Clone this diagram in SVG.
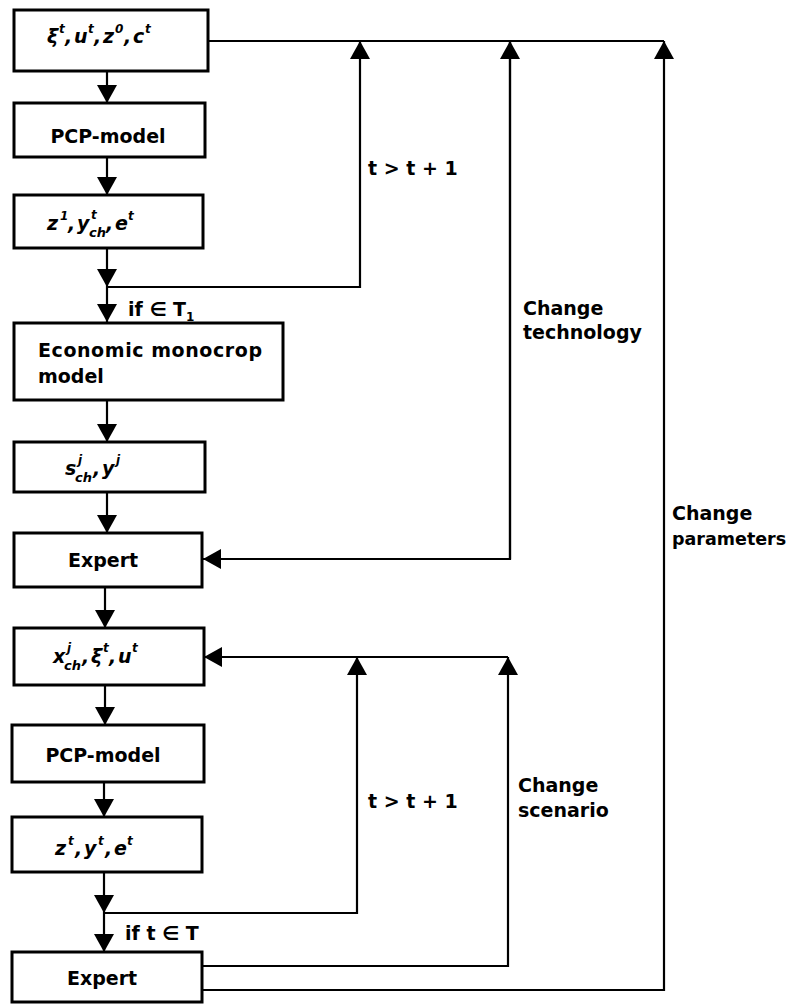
<svg xmlns="http://www.w3.org/2000/svg" width="791" height="1004" viewBox="0 0 791 1004">
<style>
.box{fill:#fff;stroke:#000;stroke-width:3}
.t{font-family:"DejaVu Sans","Liberation Sans",sans-serif;font-weight:bold;font-size:19px;fill:#000}
.m{font-family:"DejaVu Sans","Liberation Sans",sans-serif;font-weight:bold;font-style:italic;font-size:19px;fill:#000}
.s{font-size:12px}
.sb{font-size:13px}
.c{fill:none;stroke:#000;stroke-width:2.2}
</style>
<defs>
<marker id="ah" markerUnits="userSpaceOnUse" markerWidth="20" markerHeight="20" viewBox="0 0 18 20" refX="18" refY="10" orient="auto">
<path d="M0,0 L18,10 L0,20 z" fill="#000"/>
</marker>
</defs>
<rect width="791" height="1004" fill="#fff"/>
<g id="connectors">
<line class="c" x1="107" y1="71" x2="107" y2="103" marker-end="url(#ah)"/>
<line class="c" x1="107" y1="157" x2="107" y2="195" marker-end="url(#ah)"/>
<line class="c" x1="107" y1="248" x2="107" y2="287" marker-end="url(#ah)"/>
<line class="c" x1="107" y1="287" x2="107" y2="322" marker-end="url(#ah)"/>
<polyline class="c" points="107,287 360,287 360,41" marker-end="url(#ah)"/>
<line class="c" x1="208" y1="41" x2="664" y2="41"/>
<line class="c" x1="107" y1="400" x2="107" y2="442" marker-end="url(#ah)"/>
<line class="c" x1="107" y1="492" x2="107" y2="533" marker-end="url(#ah)"/>
<polyline class="c" points="510,41 510,559 203,559" marker-end="url(#ah)"/>
<line class="c" x1="510" y1="559" x2="510" y2="41" marker-end="url(#ah)"/>
<line class="c" x1="105" y1="587" x2="105" y2="628" marker-end="url(#ah)"/>
<polyline class="c" points="508,657 204,657" marker-end="url(#ah)"/>
<line class="c" x1="105" y1="685" x2="105" y2="725" marker-end="url(#ah)"/>
<line class="c" x1="104" y1="782" x2="104" y2="817" marker-end="url(#ah)"/>
<line class="c" x1="104" y1="872" x2="104" y2="913" marker-end="url(#ah)"/>
<line class="c" x1="104" y1="913" x2="104" y2="952" marker-end="url(#ah)"/>
<polyline class="c" points="104,913 357,913 357,657" marker-end="url(#ah)"/>
<polyline class="c" points="202,966 508,966 508,657" marker-end="url(#ah)"/>
<polyline class="c" points="202,990 664,990 664,41" marker-end="url(#ah)"/>
<text class="t" x="368" y="175">t &gt; t + 1</text>
<text class="t" x="128" y="316">if ∈ T<tspan class="s" dy="5">1</tspan></text>
<text class="t" x="523" y="315">Change</text>
<text class="t" x="523" y="339">technology</text>
<text class="t" x="672" y="520">Change</text>
<text class="t" x="672" y="545" style="font-size:17.5px">parameters</text>
<text class="t" x="368" y="808">t &gt; t + 1</text>
<text class="t" x="518" y="792">Change</text>
<text class="t" x="518" y="817">scenario</text>
<text class="t" x="125" y="940">if t ∈ T</text>
</g>
<g id="n1">
<rect class="box" x="14" y="10" width="194" height="61"/>
<text class="m"><tspan x="47" y="43">ξ</tspan><tspan class="s" x="59" y="33">t</tspan><tspan x="65" y="43">,</tspan><tspan x="74" y="43">u</tspan><tspan class="s" x="88" y="33">t</tspan><tspan x="94" y="43">,</tspan><tspan x="103" y="43">z</tspan><tspan class="s" x="115" y="33">0</tspan><tspan x="124" y="43">,</tspan><tspan x="133" y="43">c</tspan><tspan class="s" x="145" y="33">t</tspan></text>
</g>
<g id="n2">
<rect class="box" x="14" y="103" width="191" height="54"/>
<text class="t" x="108" y="143" text-anchor="middle">PCP-model</text>
</g>
<g id="n3">
<rect class="box" x="14" y="195" width="189" height="53"/>
<text class="m"><tspan x="47" y="230">z</tspan><tspan class="s" x="60" y="220">1</tspan><tspan x="68" y="230">,</tspan><tspan x="77" y="230">y</tspan><tspan class="s" x="91" y="219">t</tspan><tspan class="sb" x="89" y="237">ch</tspan><tspan x="106" y="230">,</tspan><tspan x="115" y="230">e</tspan><tspan class="s" x="128" y="220">t</tspan></text>
</g>
<g id="n4">
<rect class="box" x="14" y="323" width="269" height="77"/>
<text class="t" x="38" y="357" textLength="224" lengthAdjust="spacing">Economic monocrop</text>
<text class="t" x="38" y="383">model</text>
</g>
<g id="n5">
<rect class="box" x="14" y="442" width="191" height="50"/>
<text class="m"><tspan x="65" y="475">s</tspan><tspan class="s" x="78" y="464">j</tspan><tspan class="sb" x="75" y="482">ch</tspan><tspan x="93" y="475">,</tspan><tspan x="102" y="475">y</tspan><tspan class="s" x="116" y="464">j</tspan></text>
</g>
<g id="n6">
<rect class="box" x="14" y="533" width="188" height="54"/>
<text class="t" x="103" y="567" text-anchor="middle">Expert</text>
</g>
<g id="n7">
<rect class="box" x="14" y="628" width="190" height="57"/>
<text class="m"><tspan x="53" y="663">x</tspan><tspan class="s" x="67" y="652">j</tspan><tspan class="sb" x="64" y="670">ch</tspan><tspan x="82" y="663">,</tspan><tspan x="91" y="663">ξ</tspan><tspan class="s" x="103" y="652">t</tspan><tspan x="109" y="663">,</tspan><tspan x="118" y="663">u</tspan><tspan class="s" x="132" y="652">t</tspan></text>
</g>
<g id="n8">
<rect class="box" x="12" y="725" width="192" height="57"/>
<text class="t" x="103" y="762" text-anchor="middle">PCP-model</text>
</g>
<g id="n9">
<rect class="box" x="12" y="817" width="190" height="55"/>
<text class="m"><tspan x="55" y="855">z</tspan><tspan class="s" x="68" y="845">t</tspan><tspan x="75" y="855">,</tspan><tspan x="84" y="855">y</tspan><tspan class="s" x="98" y="845">t</tspan><tspan x="105" y="855">,</tspan><tspan x="114" y="855">e</tspan><tspan class="s" x="127" y="845">t</tspan></text>
</g>
<g id="n10">
<rect class="box" x="12" y="952" width="190" height="50"/>
<text class="t" x="102" y="985" text-anchor="middle">Expert</text>
</g>
</svg>
